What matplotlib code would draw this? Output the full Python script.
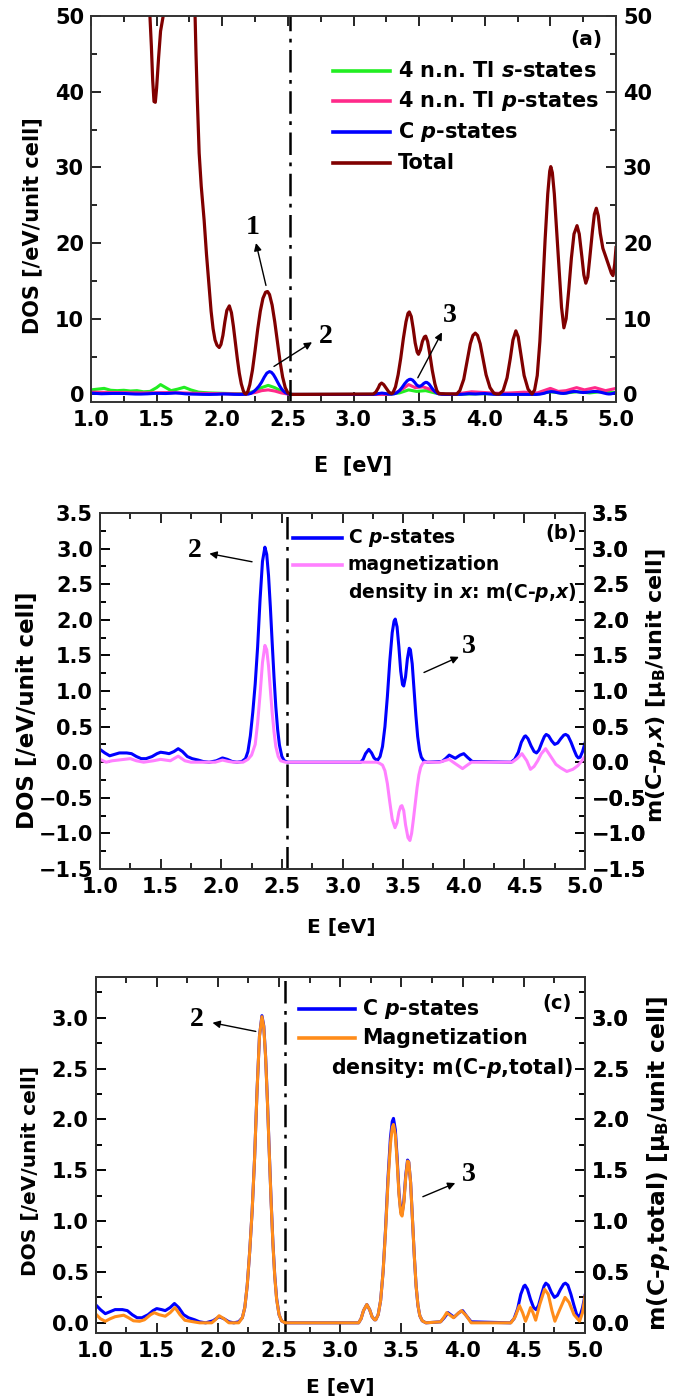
import numpy as np
import matplotlib
matplotlib.use("Agg")
import matplotlib.pyplot as plt
from matplotlib.lines import Line2D
from matplotlib.ticker import MultipleLocator

plt.rcParams["font.family"] = ["DejaVu Sans"]
plt.rcParams["font.weight"] = "bold"
plt.rcParams["mathtext.fontset"] = "custom"
plt.rcParams["mathtext.it"] = "DejaVu Sans:italic:bold"
plt.rcParams["mathtext.rm"] = "DejaVu Sans:bold"
plt.rcParams["mathtext.bf"] = "DejaVu Sans:bold"

# ---- data ----
# Total DOS (panel a); nan marks the part that runs off the top of the plot
total_E = [1.449, 1.46, 1.47, 1.48, 1.49, 1.50, 1.515, 1.53, 1.55, 1.67,
           1.793, 1.80, 1.81, 1.824, 1.84, 1.862, 1.88, 1.90, 1.915, 1.93, 1.945, 1.96,
           1.977, 1.99, 2.005, 2.02, 2.035, 2.054, 2.07, 2.085, 2.10, 2.115, 2.13, 2.145,
           2.16, 2.17, 2.181, 2.195, 2.21, 2.23, 2.25, 2.27, 2.29, 2.31, 2.33, 2.345,
           2.36, 2.38, 2.40, 2.42, 2.44, 2.46, 2.48, 2.50, 2.52, 3.15, 3.17, 3.19,
           3.20, 3.214, 3.23, 3.25, 3.27, 3.29, 3.30, 3.32, 3.34, 3.36, 3.38, 3.40,
           3.415, 3.425, 3.44, 3.455, 3.47, 3.485, 3.495, 3.51, 3.525, 3.54, 3.55, 3.565,
           3.58, 3.60, 3.62, 3.635, 3.65, 3.786, 3.81, 3.84, 3.87, 3.89, 3.91, 3.928,
           3.945, 3.965, 3.985, 4.01, 4.04, 4.07, 4.09, 4.11, 4.14, 4.17, 4.195, 4.215,
           4.237, 4.255, 4.275, 4.30, 4.33, 4.36, 4.38, 4.40, 4.42, 4.44, 4.46, 4.48,
           4.495, 4.503, 4.515, 4.53, 4.55, 4.57, 4.585, 4.603, 4.62, 4.64, 4.66, 4.68,
           4.703, 4.72, 4.74, 4.755, 4.77, 4.785, 4.80, 4.82, 4.835, 4.85, 4.865, 4.88,
           4.90, 4.92, 4.945, 4.965, 4.977, 4.99, 5.00]
total_dos = [50, 46, 41.5, 38.7, 38.6, 40.5, 44.5, 48, 50, np.nan,
             50, 45, 39, 31.9, 27.5, 23, 18.5, 14.2, 11, 8.7, 7.2, 6.5,
             6.2, 6.6, 7.8, 9.6, 11.1, 11.7, 10.8, 9.0, 6.8, 4.7, 2.8, 1.4,
             0.5, 0.15, 0.05, 0.4, 1.3, 3.2, 5.8, 8.6, 11.0, 12.7, 13.5, 13.6,
             13.2, 11.8, 9.6, 7.0, 4.4, 2.3, 0.9, 0.2, 0, 0.05, 0.3, 0.9,
             1.3, 1.5, 1.3, 0.8, 0.3, 0.1, 0.2, 1.0, 2.6, 4.8, 7.4, 9.6,
             10.7, 10.9, 10.3, 8.7, 6.8, 5.6, 5.3, 5.9, 7.0, 7.6, 7.7, 7.0,
             5.5, 3.2, 1.4, 0.5, 0.1, 0.05, 0.5, 2.0, 4.8, 6.7, 7.8, 8.1,
             7.8, 6.7, 4.9, 2.6, 0.9, 0.15, 0.05, 0.05, 0.5, 2.2, 4.8, 7.2,
             8.4, 7.6, 5.3, 2.5, 0.7, 0.05, 0.6, 2.5, 7, 13.5, 20.5, 26.5,
             29.5, 30.1, 29.3, 26.5, 21, 15.5, 11.5, 8.8, 10.0, 13.8, 18.0, 21.2,
             22.3, 21.2, 18.2, 15.8, 14.7, 15.5, 18, 21.5, 23.8, 24.6, 23.6, 21.3,
             19.3, 18.3, 17, 16, 15.7, 17.2, 19.4]

# 4 n.n. Tl s-states (panel a)
tl_s_E = [1.00, 1.05, 1.10, 1.15, 1.20, 1.25, 1.30, 1.35, 1.40, 1.45, 1.50, 1.53,
          1.57, 1.61, 1.66, 1.71, 1.76, 1.82, 1.90, 2.00, 2.10, 2.18, 2.24, 2.30,
          2.35, 2.40, 2.45, 2.50, 2.53, 3.25, 3.35, 3.42, 3.48, 3.55, 3.62, 3.70,
          3.85, 4.00, 4.20, 4.40, 4.50, 4.60, 4.70, 4.80, 4.88, 5.00]
tl_s_dos = [0.6, 0.7, 0.8, 0.55, 0.5, 0.55, 0.45, 0.5, 0.35, 0.4, 0.9, 1.3,
            0.9, 0.5, 0.7, 0.95, 0.6, 0.3, 0.2, 0.15, 0.1, 0.1, 0.4, 0.9,
            1.2, 0.9, 0.45, 0.1, 0, 0, 0.2, 0.6, 0.4, 0.5, 0.2, 0,
            0.05, 0.1, 0.05, 0.05, 0.35, 0.15, 0.35, 0.2, 0.35, 0.25]

# 4 n.n. Tl p-states (panel a)
tl_p_E = [1.00, 1.20, 1.40, 1.60, 1.80, 2.00, 2.18, 2.25, 2.30, 2.35, 2.40, 2.45,
          2.50, 2.53, 3.25, 3.32, 3.38, 3.42, 3.47, 3.53, 3.58, 3.64, 3.70, 3.80,
          3.90, 4.00, 4.10, 4.20, 4.30, 4.40, 4.50, 4.56, 4.62, 4.70, 4.76, 4.84,
          4.92, 5.00]
tl_p_dos = [0.3, 0.25, 0.2, 0.25, 0.15, 0.1, 0.05, 0.25, 0.5, 0.6, 0.45, 0.2,
            0.05, 0, 0, 0.2, 0.8, 1.3, 0.9, 1.0, 0.7, 0.2, 0, 0.1,
            0.35, 0.25, 0.15, 0.2, 0.3, 0.2, 0.8, 0.4, 0.5, 0.9, 0.6, 0.9,
            0.5, 0.8]

# C p-states (same curve in panels a, b, c)
cp_E = [1.00, 1.04, 1.08, 1.12, 1.16, 1.22, 1.26, 1.30, 1.34, 1.38, 1.43, 1.47,
        1.50, 1.54, 1.57, 1.61, 1.645, 1.68, 1.72, 1.76, 1.81, 1.85, 1.90, 1.96,
        2.01, 2.05, 2.09, 2.13, 2.17, 2.20, 2.22, 2.24, 2.26, 2.28, 2.30, 2.32,
        2.34, 2.36, 2.375, 2.39, 2.405, 2.42, 2.435, 2.45, 2.465, 2.48, 2.50, 2.52,
        2.55, 3.15, 3.17, 3.19, 3.217, 3.24, 3.26, 3.28, 3.29, 3.31, 3.33, 3.35,
        3.37, 3.39, 3.41, 3.425, 3.435, 3.45, 3.465, 3.48, 3.495, 3.505, 3.52, 3.535,
        3.55, 3.56, 3.575, 3.59, 3.605, 3.62, 3.635, 3.65, 3.67, 3.70, 3.82, 3.85,
        3.88, 3.93, 3.97, 4.00, 4.03, 4.07, 4.39, 4.42, 4.45, 4.475, 4.50, 4.51,
        4.53, 4.555, 4.58, 4.60, 4.62, 4.645, 4.665, 4.68, 4.70, 4.725, 4.75, 4.775,
        4.80, 4.825, 4.84, 4.86, 4.885, 4.91, 4.93, 4.945, 4.96, 4.98, 5.00]
cp_dos = [0.18, 0.13, 0.09, 0.11, 0.13, 0.13, 0.12, 0.08, 0.05, 0.05, 0.08, 0.12,
          0.14, 0.13, 0.12, 0.15, 0.19, 0.15, 0.08, 0.05, 0.03, 0.01, 0.0, 0.02,
          0.06, 0.04, 0.01, 0.0, 0.01, 0.05, 0.15, 0.37, 0.70, 1.10, 1.62, 2.28,
          2.82, 3.02, 2.92, 2.62, 2.18, 1.68, 1.20, 0.78, 0.46, 0.24, 0.08, 0.02,
          0.0, 0.0, 0.04, 0.12, 0.18, 0.13, 0.06, 0.03, 0.03, 0.08, 0.22, 0.50,
          0.92, 1.42, 1.82, 1.98, 2.01, 1.90, 1.62, 1.28, 1.09, 1.07, 1.20, 1.45,
          1.60, 1.58, 1.38, 1.02, 0.66, 0.36, 0.17, 0.07, 0.02, 0.0, 0.01, 0.05,
          0.10, 0.055, 0.10, 0.12, 0.07, 0.01, 0.0, 0.04, 0.14, 0.28, 0.36, 0.37,
          0.33, 0.23, 0.15, 0.13, 0.17, 0.28, 0.36, 0.39, 0.37, 0.30, 0.25, 0.27,
          0.33, 0.38, 0.39, 0.37, 0.28, 0.17, 0.09, 0.06, 0.07, 0.15, 0.27]

# magnetization density in x (panel b)
mx_E = [1.00, 1.05, 1.10, 1.15, 1.25, 1.30, 1.36, 1.44, 1.50, 1.58, 1.645, 1.70,
        1.75, 1.95, 2.01, 2.06, 2.10, 2.18, 2.22, 2.25, 2.28, 2.30, 2.32, 2.34,
        2.36, 2.375, 2.39, 2.405, 2.42, 2.435, 2.45, 2.47, 2.49, 2.53, 3.28, 3.30,
        3.33, 3.35, 3.37, 3.39, 3.41, 3.433, 3.45, 3.465, 3.48, 3.49, 3.505, 3.52,
        3.54, 3.556, 3.57, 3.585, 3.60, 3.615, 3.63, 3.645, 3.66, 3.675, 3.80, 3.84,
        3.88, 3.93, 3.99, 4.03, 4.064, 4.40, 4.44, 4.48, 4.52, 4.55, 4.58, 4.61,
        4.64, 4.675, 4.71, 4.76, 4.80, 4.85, 4.90, 4.94, 4.97, 5.00]
mx_val = [0.04, 0.00, 0.02, 0.03, 0.05, 0.02, 0.00, 0.02, 0.04, 0.02, 0.085, 0.02,
          0.0, 0.0, 0.03, 0.01, 0.0, 0.0, 0.04, 0.10, 0.25, 0.55, 0.95, 1.40,
          1.64, 1.58, 1.35, 1.02, 0.70, 0.43, 0.22, 0.08, 0.02, 0.0, 0.0, -0.01,
          -0.04, -0.12, -0.30, -0.56, -0.80, -0.92, -0.85, -0.70, -0.62, -0.61, -0.68, -0.88,
          -1.06, -1.10, -1.00, -0.80, -0.58, -0.36, -0.18, -0.07, -0.02, 0.0, 0.0, 0.02,
          0.04, -0.02, -0.09, -0.04, 0.0, 0.0, 0.05, 0.12, 0.02, -0.10, -0.06, 0.02,
          0.12, 0.19, 0.10, -0.03, -0.08, -0.13, -0.10, -0.05, 0.01, 0.08]

# total magnetization density (panel c)
mt_E = [1.00, 1.04, 1.08, 1.12, 1.16, 1.23, 1.27, 1.31, 1.36, 1.40, 1.45, 1.48,
        1.52, 1.57, 1.61, 1.65, 1.69, 1.73, 1.80, 1.85, 1.95, 1.98, 2.01, 2.05,
        2.09, 2.17, 2.20, 2.22, 2.24, 2.26, 2.28, 2.30, 2.32, 2.34, 2.36, 2.375,
        2.39, 2.405, 2.42, 2.435, 2.45, 2.465, 2.48, 2.50, 2.52, 2.55, 3.15, 3.17,
        3.19, 3.217, 3.24, 3.26, 3.28, 3.29, 3.31, 3.33, 3.35, 3.37, 3.39, 3.41,
        3.425, 3.435, 3.45, 3.465, 3.48, 3.495, 3.505, 3.52, 3.535, 3.55, 3.56, 3.575,
        3.59, 3.605, 3.62, 3.635, 3.65, 3.67, 3.70, 3.82, 3.85, 3.87, 3.925, 3.97,
        3.99, 4.03, 4.07, 4.395, 4.43, 4.464, 4.49, 4.514, 4.535, 4.555, 4.575, 4.597,
        4.63, 4.67, 4.70, 4.73, 4.754, 4.79, 4.837, 4.87, 4.91, 4.956, 4.98, 5.00]
mt_val = [0.09, 0.04, 0.015, 0.04, 0.06, 0.075, 0.05, 0.02, 0.015, 0.03, 0.08, 0.10,
          0.08, 0.065, 0.10, 0.15, 0.08, 0.025, 0.01, 0.0, 0.0, 0.03, 0.07, 0.04,
          0.0, 0.0, 0.05, 0.15, 0.37, 0.70, 1.10, 1.62, 2.28, 2.82, 3.01, 2.91,
          2.61, 2.17, 1.67, 1.19, 0.77, 0.45, 0.23, 0.08, 0.02, 0.0, 0.0, 0.04,
          0.12, 0.18, 0.13, 0.06, 0.03, 0.03, 0.08, 0.22, 0.50, 0.90, 1.38, 1.76,
          1.92, 1.95, 1.85, 1.58, 1.26, 1.07, 1.05, 1.18, 1.43, 1.59, 1.58, 1.38,
          1.02, 0.66, 0.36, 0.17, 0.07, 0.02, 0.0, 0.01, 0.06, 0.10, 0.05, 0.10,
          0.12, 0.07, 0.0, 0.0, 0.06, 0.17, 0.10, 0.016, 0.08, 0.15, 0.10, 0.026,
          0.18, 0.33, 0.28, 0.12, 0.016, 0.12, 0.25, 0.20, 0.08, 0.016, 0.10, 0.26]

fermi_E = {"a": 2.515, "b": 2.54, "c": 2.55}

# ---- layout ----
W, H = 679, 1400
fig = plt.figure(figsize=(W / 100, H / 100), dpi=100)


def box(l, t, r, b):
    return [l / W, 1 - b / H, (r - l) / W, (b - t) / H]


def fx(x):
    return x / W


def fy(y):
    return 1 - y / H


TICK_FS = 15
NUM_FONT = ["Liberation Serif", "DejaVu Serif"]
BLUE = "#0000ff"


def style_axis(ax, ymaj, ymin_):
    ax.set_xlim(1.0, 5.0)
    ax.xaxis.set_major_locator(MultipleLocator(0.5))
    ax.xaxis.set_minor_locator(MultipleLocator(0.25))
    ax.yaxis.set_major_locator(MultipleLocator(ymaj))
    ax.yaxis.set_minor_locator(MultipleLocator(ymin_))
    ax.tick_params(which="both", direction="in", top=True, right=True,
                   labelright=True, width=1.2, labelsize=TICK_FS)
    ax.tick_params(which="major", length=7)
    ax.tick_params(axis="x", which="major", pad=6)
    ax.tick_params(axis="y", which="major", pad=5)
    ax.tick_params(which="minor", length=4)
    for s in ax.spines.values():
        s.set_linewidth(1.4)
        s.set_color("#333333")
    ax.yaxis.set_ticks_position("both")


def legend_line(x0, x1, y, color, text, tx, fs):
    fig.add_artist(Line2D([fx(x0), fx(x1)], [fy(y), fy(y)], color=color, lw=2.6,
                          transform=fig.transFigure))
    fig.text(fx(tx), fy(y), text, fontsize=fs, fontweight="bold",
             ha="left", va="center")


def label(x, y, s, fs, rot=0):
    fig.text(fx(x), fy(y), s, fontsize=fs, fontweight="bold", rotation=rot,
             ha="center", va="center")


def arrow(ax, head, tail):
    ax.annotate("", xy=head, xytext=tail,
                arrowprops=dict(arrowstyle="-|>", lw=1.0, color="black",
                                mutation_scale=11, shrinkA=0, shrinkB=0))


def number(ax, x, y, s):
    ax.text(x, y, s, fontsize=20, fontweight="bold", family=NUM_FONT,
            ha="center", va="center")


def fermi(ax, e):
    ax.axvline(e, color="black", lw=1.8, dashes=(9, 3, 1.5, 3))


# ---- panel (a) ----
ax1 = fig.add_axes(box(91, 16, 616, 402))
ax1.plot(tl_s_E, tl_s_dos, color="#22ee22", lw=2.2)
ax1.plot(tl_p_E, tl_p_dos, color="#ff2a8a", lw=2.2)
ax1.plot(cp_E, cp_dos, color=BLUE, lw=2.2)
ax1.plot(total_E, total_dos, color="#800000", lw=2.3)
fermi(ax1, fermi_E["a"])
ax1.set_ylim(-1, 50)
style_axis(ax1, 10, 5)
label(353, 465, "E  [eV]", 15)
label(32, 226, "DOS [/eV/unit cell]", 15, 90)
legend_line(333, 390, 71, "#22ee22", "4 n.n. Tl $s$-states", 398, 15)
legend_line(333, 390, 101, "#ff2a8a", "4 n.n. Tl $p$-states", 398, 15)
legend_line(333, 390, 132, BLUE, "C $p$-states", 398, 15)
legend_line(333, 390, 163, "#800000", "Total", 398, 15)
fig.text(fx(602), fy(40), "(a)", fontsize=14.5, fontweight="bold", ha="right", va="center")
number(ax1, 2.23, 22.1, "1")
arrow(ax1, (2.257, 20.0), (2.333, 14.4))
number(ax1, 2.79, 7.6, "2")
arrow(ax1, (2.684, 6.9), (2.394, 3.7))
number(ax1, 3.73, 10.4, "3")
arrow(ax1, (3.674, 8.2), (3.49, 2.2))

# ---- panel (b) ----
ax2 = fig.add_axes(box(100, 513, 585, 869))
ax2.plot(cp_E, cp_dos, color=BLUE, lw=2.2)
ax2r = ax2.twinx()
ax2r.plot(mx_E, mx_val, color="#ff80ff", lw=2.2)
fermi(ax2, fermi_E["b"])
ax2.set_ylim(-1.5, 3.5)
ax2r.set_ylim(-1.5, 3.5)
style_axis(ax2, 0.5, 0.25)
style_axis(ax2r, 0.5, 0.25)
label(341, 927, "E [eV]", 14.5)
label(28, 710, "DOS [/eV/unit cell]", 16.5, 90)
label(656, 686, "m(C-$p$,$x$) [μ$_{\\mathrm{B}}$/unit cell]", 16, 90)
legend_line(293, 342, 538, BLUE, "C $p$-states", 348, 13.5)
legend_line(293, 342, 565, "#ff80ff", "magnetization", 348, 13.5)
fig.text(fx(348), fy(592), "density in $x$: m(C-$p$,$x$)", fontsize=13.5,
         fontweight="bold", ha="left", va="center")
fig.text(fx(577), fy(533), "(b)", fontsize=14, fontweight="bold", ha="right", va="center")
number(ax2, 1.78, 2.98, "2")
arrow(ax2, (1.902, 2.93), (2.254, 2.815))
number(ax2, 4.04, 1.62, "3")
arrow(ax2, (3.96, 1.48), (3.672, 1.26))

# ---- panel (c) ----
ax3 = fig.add_axes(box(95.5, 977, 585, 1333))
ax3.plot(cp_E, cp_dos, color=BLUE, lw=2.2)
ax3r = ax3.twinx()
ax3r.plot(mt_E, mt_val, color="#ff8c1a", lw=2.2)
fermi(ax3, fermi_E["c"])
ax3.set_ylim(-0.1, 3.4)
ax3r.set_ylim(-0.1, 3.4)
style_axis(ax3, 0.5, 0.25)
style_axis(ax3r, 0.5, 0.25)
label(340, 1388, "E [eV]", 14.5)
label(31, 1171, "DOS [/eV/unit cell]", 14.5, 90)
label(659, 1163, "m(C-$p$,total) [μ$_{\\mathrm{B}}$/unit cell]", 16.8, 90)
legend_line(299, 355, 1009, BLUE, "C $p$-states", 362, 14.8)
legend_line(299, 355, 1038, "#ff8c1a", "Magnetization", 362, 14.8)
fig.text(fx(573), fy(1068), "density: m(C-$p$,total)", fontsize=14.8,
         fontweight="bold", ha="right", va="center")
fig.text(fx(572), fy(1004), "(c)", fontsize=14, fontweight="bold", ha="right", va="center")
number(ax3, 1.83, 2.98, "2")
arrow(ax3, (1.956, 2.95), (2.31, 2.865))
number(ax3, 4.05, 1.456, "3")
arrow(ax3, (3.94, 1.374), (3.675, 1.24))

fig.savefig("out.png", dpi=100)
